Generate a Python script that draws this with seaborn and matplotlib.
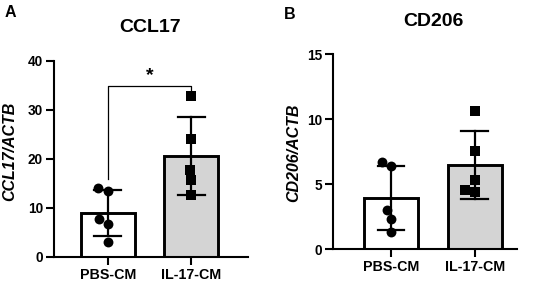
import matplotlib
matplotlib.use("Agg")
import matplotlib.pyplot as plt
import seaborn as sns
import pandas as pd
import numpy as np

plt.rcParams['font.family'] = ['Liberation Sans', 'DejaVu Sans']
plt.rcParams['font.weight'] = 'bold'

groups = ["PBS-CM", "IL-17-CM"]
ccl17_pbs = [14.1, 13.4, 7.6, 6.6, 3.1]
ccl17_il17 = [32.7, 24.0, 17.7, 15.7, 12.6]
cd206_pbs = [6.7, 6.4, 3.0, 2.3, 1.35]
cd206_il17 = [10.6, 7.55, 5.3, 4.55, 4.4]
ccl17_ticks = [0, 10, 20, 30, 40]
cd206_ticks = [0, 5, 10, 15]

W, H = 536, 286
fig = plt.figure(figsize=(W / 100, H / 100), dpi=100)


def px_axes(l, r, t, b):
    return fig.add_axes([l / W, 1 - b / H, (r - l) / W, (b - t) / H])


def panel(ax, pbs, il17, ticks, ylabel, xlim):
    df = pd.DataFrame({"group": [groups[0]] * len(pbs) + [groups[1]] * len(il17),
                       "val": list(pbs) + list(il17)})
    sns.barplot(data=df, x="group", y="val", order=groups, hue="group", hue_order=groups,
                palette=["white", "#d4d4d4"], legend=False, errorbar="sd",
                capsize=0.32, err_kws={"linewidth": 1.6, "color": "black"},
                edgecolor="black", linewidth=2.1, width=0.65, ax=ax, saturation=1)
    sns.swarmplot(data=df[df.group == groups[0]], x="group", y="val", order=groups,
                  color="black", marker="o", size=7.1, ax=ax)
    sns.swarmplot(data=df[df.group == groups[1]], x="group", y="val", order=groups,
                  color="black", marker="s", size=7.1, ax=ax)
    ax.set_xlim(*xlim)
    ax.set_ylim(ticks[0], ticks[-1])
    ax.set_yticks(ticks)
    ax.set_yticklabels([str(t) for t in ticks], fontsize=9.8, fontweight="bold")
    ax.set_xticks([0, 1])
    ax.set_xticklabels(groups, fontsize=10.3, fontweight="bold")
    ax.set_xlabel("")
    ax.set_ylabel(ylabel, fontsize=11.5, fontweight="bold", fontstyle="italic")
    for s in ["top", "right"]:
        ax.spines[s].set_visible(False)
    for s in ["left", "bottom"]:
        ax.spines[s].set_linewidth(1.5)
    ax.tick_params(axis="both", width=1.5, length=5.5, pad=2.5)
    ax.set_facecolor("none")


axA = px_axes(54, 248, 60.7, 256.7)
panel(axA, ccl17_pbs, ccl17_il17, ccl17_ticks, "CCL17/ACTB", (-0.645, 1.68))
axA.yaxis.set_label_coords((9.5 - 54) / 194, (256.7 - 151) / 196)
axA.yaxis.label.set_va("center")

# significance bracket
axA.plot([0, 0, 1, 1], [15.9, 34.9, 34.9, 33.6], color="black", linewidth=0.9)
axA.text(0.5, 36.0, "*", ha="center", va="baseline", fontsize=14, fontweight="bold")

axB = px_axes(333.3, 516.7, 54, 249.3)
panel(axB, cd206_pbs, cd206_il17, cd206_ticks, "CD206/ACTB", (-0.69, 1.5))
axB.yaxis.set_label_coords((293.5 - 333.3) / 183.4, (249.3 - 152.5) / 195.3)
axB.yaxis.label.set_va("center")

fig.text(150 / W, 1 - 28 / H, "CCL17", ha="center", va="center", fontsize=14, fontweight="bold")
fig.text(433 / W, 1 - 22 / H, "CD206", ha="center", va="center", fontsize=14, fontweight="bold")
fig.text(5 / W, 1 - 5 / H, "A", ha="left", va="top", fontsize=11.5, fontweight="bold")
fig.text(284 / W, 1 - 7 / H, "B", ha="left", va="top", fontsize=11.5, fontweight="bold")

fig.savefig("out.png", dpi=100)
